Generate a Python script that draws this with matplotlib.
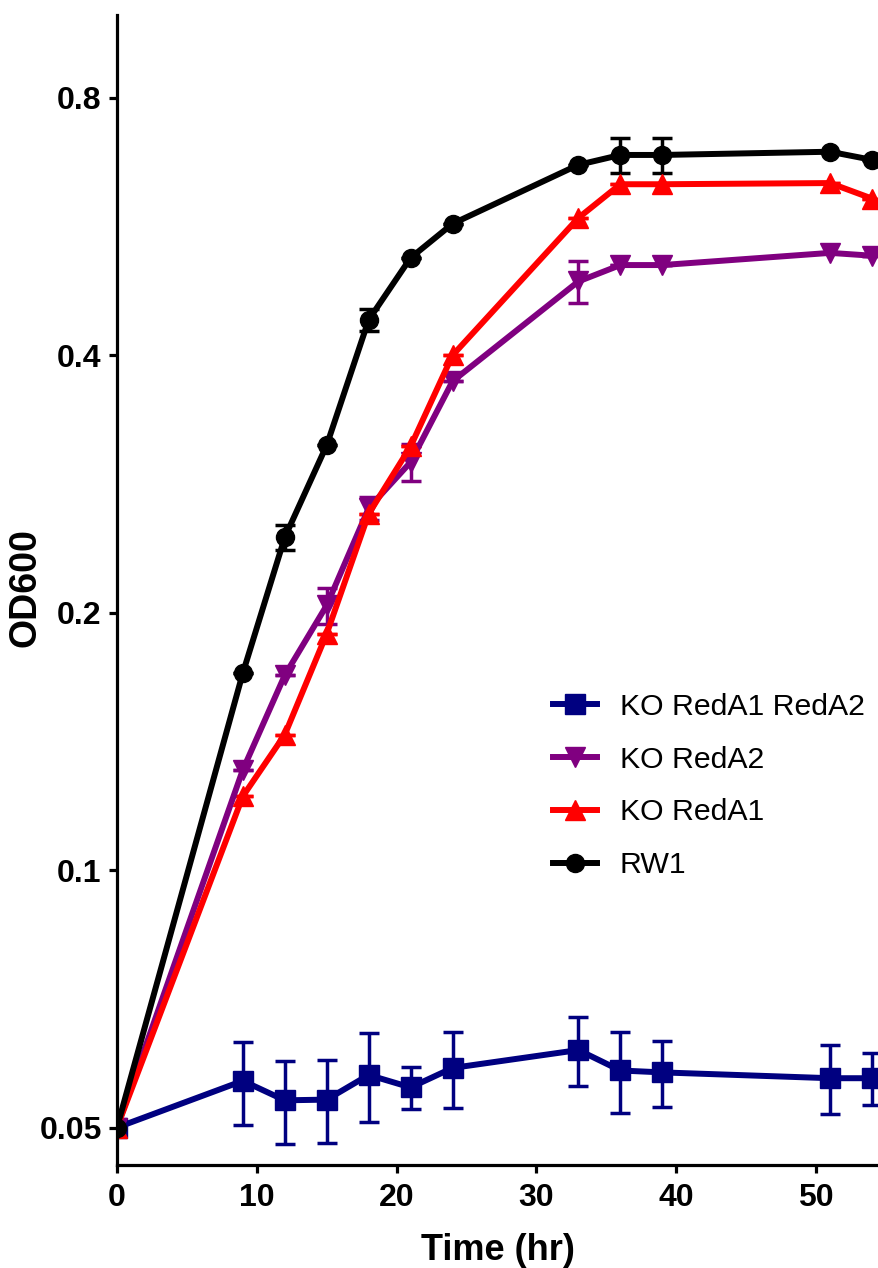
import matplotlib
matplotlib.use("Agg")
import matplotlib.pyplot as plt
from matplotlib.lines import Line2D
from matplotlib.ticker import FixedLocator, FixedFormatter, NullLocator

plt.rcParams['font.family'] = ['Liberation Sans', 'DejaVu Sans']

# growth curves, OD600 vs time
time = [0, 9, 12, 15, 18, 21, 24, 33, 36, 39, 51, 54]

rw1 = [0.05, 0.170, 0.245, 0.314, 0.440, 0.520, 0.570, 0.668, 0.686, 0.686, 0.692, 0.677]
rw1_err = [0, 0, 0.008, 0, 0.013, 0, 0, 0, 0.032, 0.032, 0, 0]

ko_a1 = [0.05, 0.122, 0.144, 0.189, 0.261, 0.313, 0.400, 0.579, 0.634, 0.634, 0.636, 0.610]
ko_a1_err = [0] * 12

ko_a2 = [0.05, 0.131, 0.169, 0.204, 0.265, 0.300, 0.373, 0.488, 0.510, 0.510, 0.527, 0.523]
ko_a2_err = [0, 0, 0, 0.010, 0.008, 0.015, 0, 0.028, 0, 0, 0, 0]

ko_a1a2 = [0.05, 0.0567, 0.0538, 0.0539, 0.0576, 0.0557, 0.0587, 0.0616, 0.0583, 0.0580, 0.0571, 0.0571]
ko_a1a2_err = [0, 0.0063, 0.0060, 0.0060, 0.0069, 0.0032, 0.0060, 0.0057, 0.0063, 0.0051, 0.0053, 0.0040]

yticks = [0.05, 0.1, 0.2, 0.4, 0.8]
ytick_labels = ['0.05', '0.1', '0.2', '0.4', '0.8']
xticks = [0, 10, 20, 30, 40, 50]

fig = plt.figure(figsize=(8.79, 12.68), dpi=100)
W, H = 879, 1268
ax = fig.add_axes([117 / W, (H - 1165) / H, (W - 117) / W, (1165 - 15) / H])

series = [
    (ko_a1a2, ko_a1a2_err, '#000080', 's', 'KO RedA1 RedA2'),
    (ko_a2, ko_a2_err, '#800080', 'v', 'KO RedA2'),
    (ko_a1, ko_a1_err, '#FF0000', '^', 'KO RedA1'),
    (rw1, rw1_err, 'black', 'o', 'RW1'),
]

handles = []
for vals, err, col, mk, lab in series:
    ms = 14 if mk != 'o' else 13
    ax.errorbar(time, vals, yerr=err, color=col, marker=mk, markersize=ms,
                linewidth=4.3, elinewidth=2.5, capsize=7, capthick=2.5)
    handles.append(Line2D([], [], color=col, marker=mk, markersize=ms,
                          linewidth=4.3, label=lab))

ax.set_yscale('log', base=2)
ax.set_ylim(0.0452, 1.0)
ax.set_xlim(0, 54.5)
ax.yaxis.set_major_locator(FixedLocator(yticks))
ax.yaxis.set_major_formatter(FixedFormatter(ytick_labels))
ax.yaxis.set_minor_locator(NullLocator())
ax.set_xticks(xticks)

for s in ['top', 'right']:
    ax.spines[s].set_visible(False)
for s in ['left', 'bottom']:
    ax.spines[s].set_linewidth(2.3)
ax.tick_params(axis='both', length=6, width=2.3, labelsize=23, pad=5)
ax.tick_params(axis='x', pad=7)
for t in ax.get_xticklabels() + ax.get_yticklabels():
    t.set_fontweight('bold')

ax.set_xlabel('Time (hr)', fontsize=26, fontweight='bold', labelpad=14)
ax.set_ylabel('OD600', fontsize=27, fontweight='bold')
ax.yaxis.set_label_coords(-0.097, 0.502)

leg = fig.legend(handles=handles, frameon=False,
                 loc='center left', bbox_to_anchor=(553 / W, 1 - 786 / H),
                 fontsize=21.8, handlelength=1.45, handletextpad=0.75,
                 labelspacing=0.82, borderpad=0, borderaxespad=0)

fig.savefig('out.png', dpi=100)
